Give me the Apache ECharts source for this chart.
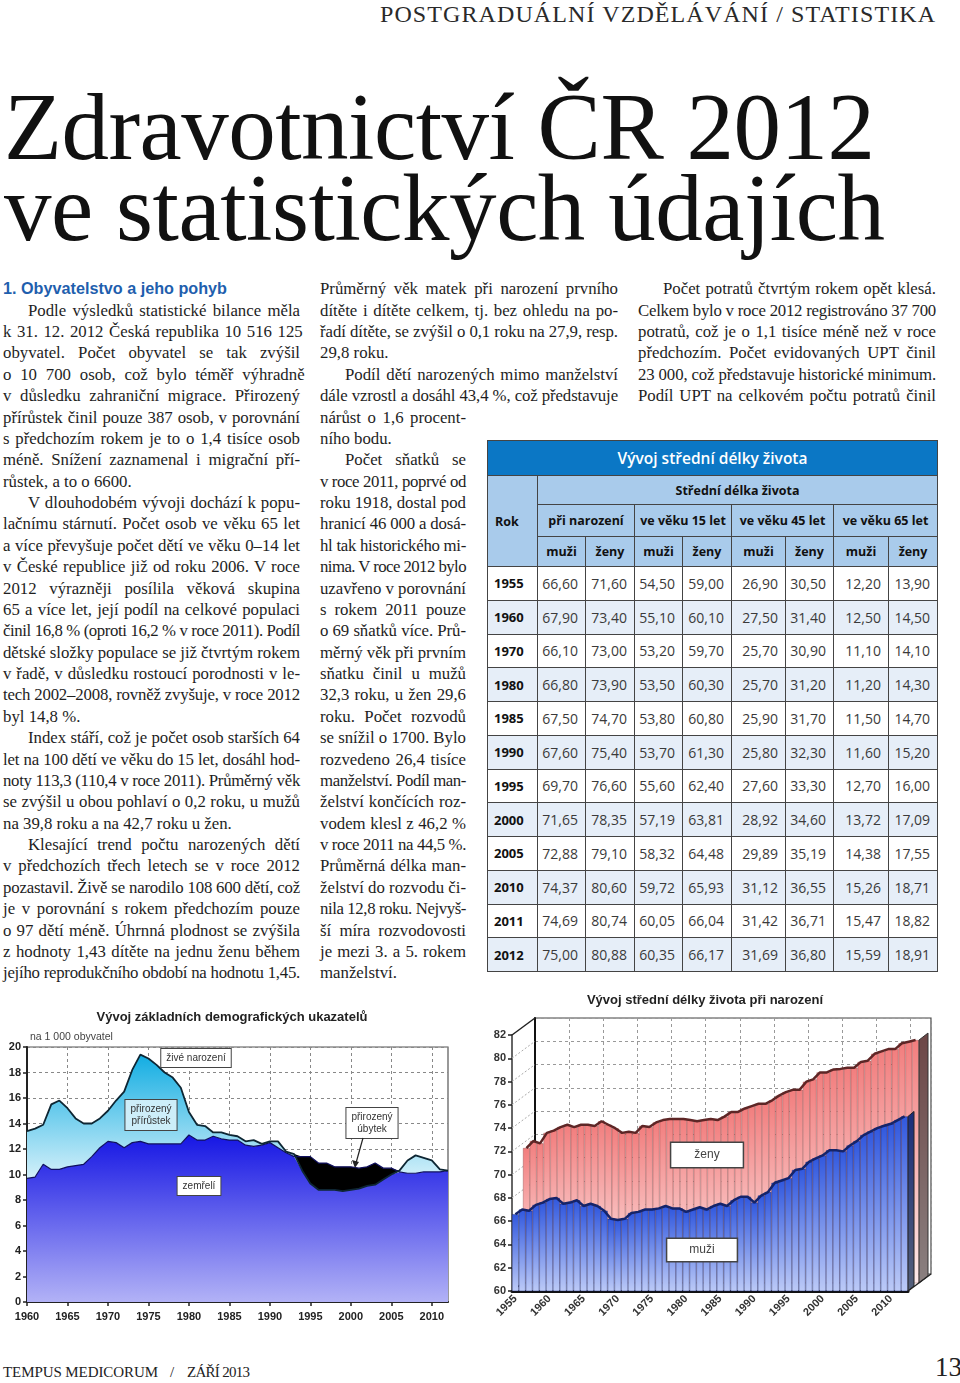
<!DOCTYPE html>
<html><head><meta charset="utf-8">
<script src="https://cdn.jsdelivr.net/npm/echarts@6/dist/echarts.min.js"></script>
<style>
html,body{margin:0;padding:0;background:#fff;}
body{width:960px;height:1383px;position:relative;overflow:hidden;font-family:"Liberation Serif",serif;color:#1c1c1c;}
.ln{position:absolute;height:21.375px;line-height:21.375px;white-space:nowrap;font-size:16.8px;color:#1e1e1e;}
.ln span{display:inline-block;white-space:nowrap;transform-origin:0 50%;}
.ln.head{font-family:"Liberation Sans Narrow","Liberation Sans",sans-serif;font-weight:bold;color:#1f5fae;font-size:17px;}
.hdr{position:absolute;white-space:nowrap;font-size:24px;line-height:28px;color:#2a2a2a;}
.ttl{position:absolute;white-space:nowrap;font-size:95px;line-height:95px;color:#111;}
.ttl span,.hdr span,.ft span{display:inline-block;white-space:nowrap;transform-origin:0 50%;}
.ft{position:absolute;white-space:nowrap;font-size:15px;line-height:20px;color:#222;}
#tbl{position:absolute;left:487px;top:440px;width:450px;height:518px;border-collapse:collapse;table-layout:fixed;font-family:"Open Sans",sans-serif;}
#tbl td{border:1.5px solid #444;padding:0;overflow:hidden;white-space:nowrap;}
#tbl tr.t0 td{background:#0b77c5;color:#fff;font-size:15.5px;font-weight:600;text-align:center;height:34px;}
#tbl tr.h td{background:#a9cbeb;color:#111;font-size:12.5px;font-weight:700;text-align:center;}
#tbl td.rok{text-align:left !important;padding-left:7px;}
#tbl tr.d td{font-size:14px;color:#3a3a3a;text-align:right;padding-right:7px;height:32.75px;}
#tbl tr.d td.y{font-size:13px;font-weight:700;color:#111;text-align:left;padding-left:6px;padding-right:0;}
#tbl tr.d.alt td{background:#e6eef8;}
#chartL{position:absolute;left:0;top:985px;width:480px;height:350px;}
#chartR{position:absolute;left:480px;top:985px;width:480px;height:350px;}
</style>
</head><body>
<div class="hdr" id="hdr" style="left:380px;top:0px;"><span>POSTGRADUÁLNÍ VZDĚLÁVÁNÍ / STATISTIKA</span></div>
<div class="ttl" id="t1" style="left:4px;top:80px;"><span>Zdravotnictví ČR 2012</span></div>
<div class="ttl" id="t2" style="left:4px;top:161px;"><span>ve statistických údajích</span></div>

<table id="tbl"></table>
<div id="chartL"></div>
<div id="chartR"></div>

<div class="ft" id="f1" style="left:3px;top:1362px;"><span>TEMPUS MEDICORUM</span></div>
<div class="ft" style="left:170px;top:1362px;"><span>/</span></div>
<div class="ft" id="f2" style="left:187px;top:1362px;text-decoration:underline;"><span>ZÁŘÍ 2013</span></div>
<div class="ft" style="left:935px;top:1352px;font-size:27px;line-height:30px;"><span>13</span></div>

<script>
// ---------------- text columns ----------------
const col1Lines = [
'#1. Obyvatelstvo a jeho pohyb',
'>Podle výsledků statistické bilance měla',
'k 31. 12. 2012 Česká republika 10\u00a0516\u00a0125',
'obyvatel. Počet obyvatel se tak zvýšil',
'o 10\u00a0700 osob, což bylo téměř výhradně',
'v důsledku zahraniční migrace. Přirozený',
'přírůstek činil pouze 387 osob, v porovnání',
's předchozím rokem je to o 1,4 tisíce osob',
'méně. Snížení zaznamenal i migrační pří-',
'růstek, a to o 6600.¶',
'>V dlouhodobém vývoji dochází k popu-',
'lačnímu stárnutí. Počet osob ve věku 65 let',
'a více převyšuje počet dětí ve věku 0–14 let',
'v České republice již od roku 2006. V roce',
'2012 výrazněji posílila věková skupina',
'65 a více let, její podíl na celkové populaci',
'činil 16,8 % (oproti 16,2 % v roce 2011). Podíl',
'dětské složky populace se již čtvrtým rokem',
'v řadě, v důsledku rostoucí porodnosti v le-',
'tech 2002–2008, rovněž zvyšuje, v roce 2012',
'byl 14,8 %.¶',
'>Index stáří, což je počet osob starších 64',
'let na 100 dětí ve věku do 15 let, dosáhl hod-',
'noty 113,3 (110,4 v roce 2011). Průměrný věk',
'se zvýšil u obou pohlaví o 0,2 roku, u mužů',
'na 39,8 roku a na 42,7 roku u žen.¶',
'>Klesající trend počtu narozených dětí',
'v předchozích třech letech se v roce 2012',
'pozastavil. Živě se narodilo 108\u00a0600 dětí, což',
'je v porovnání s rokem předchozím pouze',
'o 97 dětí méně. Úhrnná plodnost se zvýšila',
'z hodnoty 1,43 dítěte na jednu ženu během',
'jejího reprodukčního období na hodnotu 1,45.'
];
const col2Lines = [
'Průměrný věk matek při narození prvního',
'dítěte i dítěte celkem, tj. bez ohledu na po-',
'řadí dítěte, se zvýšil o 0,1 roku na 27,9, resp.',
'29,8 roku.¶',
'>Podíl dětí narozených mimo manželství',
'dále vzrostl a dosáhl 43,4 %, což představuje',
'nárůst o 1,6 procent-',
'ního bodu.¶',
'>Počet sňatků se',
'v roce 2011, poprvé od',
'roku 1918, dostal pod',
'hranicí 46\u00a0000 a dosá-',
'hl tak historického mi-',
'nima. V roce 2012 bylo',
'uzavřeno v porovnání',
's rokem 2011 pouze',
'o 69 sňatků více. Prů-',
'měrný věk při prvním',
'sňatku činil u mužů',
'32,3 roku, u žen 29,6',
'roku. Počet rozvodů',
'se snížil o 1700. Bylo',
'rozvedeno 26,4 tisíce',
'manželství. Podíl man-',
'želství končících roz-',
'vodem klesl z 46,2 %',
'v roce 2011 na 44,5 %.',
'Průměrná délka man-',
'želství do rozvodu či-',
'nila 12,8 roku. Nejvyš-',
'ší míra rozvodovosti',
'je mezi 3. a 5. rokem',
'manželství.¶'
];
const col3Lines = [
'>Počet potratů čtvrtým rokem opět klesá.',
'Celkem bylo v roce 2012 registrováno 37\u00a0700',
'potratů, což je o 1,1 tisíce méně než v roce',
'předchozím. Počet evidovaných UPT činil',
'23\u00a0000, což představuje historické minimum.',
'Podíl UPT na celkovém počtu potratů činil'
];

const fitters = [];
function fit(s, w, mode) {
  s.style.letterSpacing = '0px'; s.style.wordSpacing = '0px'; s.style.transform = '';
  const nat = s.getBoundingClientRect().width;
  const txt = s.textContent;
  if (mode === 'scale') {
    s.style.transform = 'scaleX(' + (w / nat) + ')';
    return;
  }
  if (mode === 'fit') {
    s.style.letterSpacing = ((w - nat) / Math.max(1, txt.length - 1)) + 'px';
    return;
  }
  if (nat > w + 0.3) {
    s.style.letterSpacing = ((w - nat) / txt.length) + 'px';
  } else if (mode === 'justify') {
    const n = (txt.match(/ /g) || []).length;
    if (n) s.style.wordSpacing = ((w - nat) / n) + 'px';
  }
}
const LH = 21.375;
function layoutCol(lines, x, top, widthFn) {
  lines.forEach((raw, i) => {
    let t = raw, mode = 'justify', ind = 0, cls = '';
    if (t[0] === '#') { t = t.slice(1); mode = 'scale'; cls = 'head'; }
    if (t[0] === '>') { t = t.slice(1); ind = 25; }
    if (t.endsWith('¶')) { t = t.slice(0, -1); mode = 'left'; }
    const w = widthFn(i) - ind - (cls ? 73 : 0);
    const d = document.createElement('div');
    d.className = 'ln ' + cls;
    d.style.left = (x + ind) + 'px';
    d.style.top = (top + i * LH) + 'px';
    d.style.width = w + 'px';
    const s = document.createElement('span');
    s.textContent = t;
    d.appendChild(s);
    document.body.appendChild(d);
    fitters.push(() => fit(s, w, mode));
  });
}
const top0 = 289 - LH / 2;
layoutCol(col1Lines, 3, top0, () => 297);
layoutCol(col2Lines, 320, top0, i => (i < 6 ? 298 : 146));
layoutCol(col3Lines, 638, top0, () => 298);
fitters.push(() => fit(document.querySelector('#hdr span'), 555, 'fit'));
fitters.push(() => fit(document.querySelector('#t1 span'), 871, 'fit'));
fitters.push(() => fit(document.querySelector('#t2 span'), 881, 'fit'));
fitters.push(() => fit(document.querySelector('#f1 span'), 155, 'fit'));
fitters.push(() => fit(document.querySelector('#f2 span'), 63, 'fit'));
function runFit() { fitters.forEach(f => f()); }
runFit();
if (document.fonts && document.fonts.ready) document.fonts.ready.then(runFit);

// ---------------- table ----------------
const tableYears = ['1955','1960','1970','1980','1985','1990','1995','2000','2005','2010','2011','2012'];
const birthMen   = ['66,60','67,90','66,10','66,80','67,50','67,60','69,70','71,65','72,88','74,37','74,69','75,00'];
const birthWomen = ['71,60','73,40','73,00','73,90','74,70','75,40','76,60','78,35','79,10','80,60','80,74','80,88'];
const age15Men   = ['54,50','55,10','53,20','53,50','53,80','53,70','55,60','57,19','58,32','59,72','60,05','60,35'];
const age15Women = ['59,00','60,10','59,70','60,30','60,80','61,30','62,40','63,81','64,48','65,93','66,04','66,17'];
const age45Men   = ['26,90','27,50','25,70','25,70','25,90','25,80','27,60','28,92','29,89','31,12','31,42','31,69'];
const age45Women = ['30,50','31,40','30,90','31,20','31,70','32,30','33,30','34,60','35,19','36,55','36,71','36,80'];
const age65Men   = ['12,20','12,50','11,10','11,20','11,50','11,60','12,70','13,72','14,38','15,26','15,47','15,59'];
const age65Women = ['13,90','14,50','14,10','14,30','14,70','15,20','16,00','17,09','17,55','18,71','18,82','18,91'];

(function buildTable() {
  const colW = [50, 48, 49, 48, 49, 54, 48, 55, 49];
  let h = '<colgroup>' + colW.map(w => '<col style="width:' + w + 'px">').join('') + '</colgroup>';
  h += '<tr class="t0"><td colspan="9">Vývoj střední délky života</td></tr>';
  h += '<tr class="h" style="height:29px"><td rowspan="3" class="rok">Rok</td><td colspan="8">Střední délka života</td></tr>';
  h += '<tr class="h" style="height:32px"><td colspan="2">při narození</td><td colspan="2">ve věku 15 let</td><td colspan="2">ve věku 45 let</td><td colspan="2">ve věku 65 let</td></tr>';
  h += '<tr class="h" style="height:30px">' + '<td>muži</td><td>ženy</td>'.repeat(4) + '</tr>';
  const cols = [birthMen, birthWomen, age15Men, age15Women, age45Men, age45Women, age65Men, age65Women];
  tableYears.forEach((y, i) => {
    h += '<tr class="d' + (i % 2 ? ' alt' : '') + '"><td class="y">' + y + '</td>' +
      cols.map(c => '<td>' + c[i] + '</td>').join('') + '</tr>';
  });
  document.getElementById('tbl').innerHTML = h;
})();

// ---------------- chart 1 data: births / deaths per 1000 ----------------
const demoYears = ['1960','1961','1962','1963','1964','1965','1966','1967','1968','1969',
  '1970','1971','1972','1973','1974','1975','1976','1977','1978','1979',
  '1980','1981','1982','1983','1984','1985','1986','1987','1988','1989',
  '1990','1991','1992','1993','1994','1995','1996','1997','1998','1999',
  '2000','2001','2002','2003','2004','2005','2006','2007','2008','2009',
  '2010','2011','2012'];
const liveBirths = [13.4,13.6,13.9,15.5,15.8,15.2,14.4,14.0,14.0,14.4,
  15.0,15.8,16.5,18.2,19.4,19.1,18.6,18.0,17.6,16.8,
  14.9,13.9,13.8,13.3,13.3,13.1,13.0,12.6,12.7,12.4,
  12.6,12.6,11.8,11.6,10.3,9.3,8.8,8.8,8.8,8.7,
  8.8,8.9,9.1,9.2,9.6,10.0,10.3,11.1,11.5,11.3,
  11.1,10.4,10.3];
const deaths = [9.7,9.8,10.8,10.4,10.4,10.6,10.7,10.8,11.4,12.1,
  12.6,12.5,12.1,12.5,12.6,12.4,12.4,12.4,12.4,12.4,
  13.1,12.7,12.7,13.0,12.8,12.7,12.7,12.3,12.2,12.3,
  12.5,12.1,11.7,11.4,11.4,11.4,10.9,10.9,10.6,10.6,
  10.6,10.5,10.6,10.9,10.5,10.5,10.2,10.1,10.1,10.2,
  10.2,10.2,10.3];

// ---------------- chart 2 data: life expectancy at birth ----------------
const lifeYears = ['1955','1956','1957','1958','1959','1960','1961','1962','1963','1964',
  '1965','1966','1967','1968','1969','1970','1971','1972','1973','1974',
  '1975','1976','1977','1978','1979','1980','1981','1982','1983','1984',
  '1985','1986','1987','1988','1989','1990','1991','1992','1993','1994',
  '1995','1996','1997','1998','1999','2000','2001','2002','2003','2004',
  '2005','2006','2007','2008','2009','2010','2011','2012'];
const lifeMen = [66.6,67.0,66.9,67.4,67.6,67.9,68.0,67.5,67.6,67.8,
  67.3,67.5,67.3,66.9,66.2,66.1,66.2,66.7,66.8,67.0,
  67.0,67.1,67.3,67.1,67.1,66.8,67.0,67.2,67.0,67.3,
  67.5,67.3,67.8,68.1,68.1,67.6,68.2,68.5,69.3,69.5,
  69.7,70.4,70.5,71.1,71.4,71.65,72.1,72.1,72.0,72.5,
  72.88,73.4,73.7,74.0,74.2,74.37,74.69,75.0];
const lifeWomen = [71.6,72.2,72.0,72.9,73.1,73.4,73.6,73.4,73.6,73.6,
  73.5,73.9,73.6,73.3,72.9,73.0,72.9,73.5,73.4,73.8,
  74.0,74.1,74.1,74.1,74.0,73.9,74.0,74.1,74.0,74.3,
  74.7,74.7,75.0,75.2,75.4,75.4,75.7,76.1,76.4,76.6,
  76.6,77.3,77.5,78.1,78.1,78.35,78.4,78.5,78.5,79.0,
  79.1,79.7,79.9,80.1,80.1,80.6,80.74,80.88];
const lifeTicks = [60,62,64,66,68,70,72,74,76,78,80,82];

const FF = '"Liberation Sans", Arial, sans-serif';
const grad = (a, b) => new echarts.graphic.LinearGradient(0, 0, 0, 1, [{offset: 0, color: a}, {offset: 1, color: b}]);

// ---------------- chart 1 ----------------
const lowPart = liveBirths.map((b, i) => +Math.min(b, deaths[i]).toFixed(2));
const gainPart = liveBirths.map((b, i) => +Math.max(b - deaths[i], 0).toFixed(2));
const lossPart = liveBirths.map((b, i) => +Math.max(deaths[i] - b, 0).toFixed(2));

const chartL = echarts.init(document.getElementById('chartL'), null, {renderer: 'canvas'});
const boxStyle = (txt, bg) => ({text: txt, fill: '#333', fontSize: 10, fontFamily: FF, align: 'center', verticalAlign: 'middle',
  backgroundColor: bg || '#fff', borderColor: '#444', borderWidth: 1, padding: [3, 5], lineHeight: 12});
chartL.setOption({
  animation: false,
  backgroundColor: '#fff',
  grid: {left: 27, right: 32, top: 62, bottom: 33, show: true, borderColor: '#555', borderWidth: 1.2, backgroundColor: '#fff', outerBoundsMode: 'none', containLabel: false},
  xAxis: {
    type: 'category', data: demoYears, boundaryGap: false,
    axisLine: {lineStyle: {color: '#222', width: 2}},
    axisTick: {interval: 4, length: 4, lineStyle: {color: '#222', width: 1.5}},
    axisLabel: {interval: 4, fontFamily: FF, fontWeight: 'bold', fontSize: 11, color: '#222', margin: 9},
    splitLine: {show: true, interval: 4, lineStyle: {type: [3, 3], color: '#888', width: 1}}
  },
  yAxis: {
    type: 'value', min: 0, max: 20, interval: 2,
    axisLine: {show: true, lineStyle: {color: '#222', width: 2}},
    axisTick: {show: true, length: 4, lineStyle: {color: '#222', width: 1.5}},
    axisLabel: {fontFamily: FF, fontWeight: 'bold', fontSize: 11, color: '#222', margin: 6},
    splitLine: {show: true, lineStyle: {type: [3, 3], color: '#888', width: 1}}
  },
  series: [
    {type: 'line', stack: 'r', data: lowPart, symbol: 'none', lineStyle: {width: 0}, areaStyle: {color: grad('#1616e4', '#b2b2f6'), opacity: 1}, z: 2},
    {type: 'line', stack: 'r', data: gainPart, symbol: 'none', lineStyle: {width: 0}, areaStyle: {color: grad('#12ade2', '#e8f7fc'), opacity: 1}, z: 2},
    {type: 'line', stack: 'r', data: lossPart, symbol: 'none', lineStyle: {width: 0}, areaStyle: {color: '#000', opacity: 1}, z: 2},
    {type: 'line', data: deaths, symbol: 'none', lineStyle: {color: '#10105e', width: 1.2}, z: 4},
    {type: 'line', data: liveBirths, symbol: 'none', lineStyle: {color: '#0e2633', width: 1.8}, z: 5}
  ],
  graphic: [
    {type: 'text', x: 232, y: 32, z: 10, style: {text: 'Vývoj základních demografických ukazatelů', fill: '#222', fontSize: 13, fontWeight: 'bold', fontFamily: FF, align: 'center', verticalAlign: 'middle'}},
    {type: 'text', x: 30, y: 52, z: 10, style: {text: 'na 1 000 obyvatel', fill: '#444', fontSize: 10.5, fontFamily: FF, align: 'left', verticalAlign: 'middle'}},
    {type: 'text', x: 196, y: 73, z: 10, style: boxStyle('živé narození')},
    {type: 'text', x: 151, y: 130, z: 10, style: boxStyle('přirozený\npřírůstek', '#cdeef9')},
    {type: 'text', x: 199, y: 201, z: 10, style: boxStyle('zemřelí')},
    {type: 'text', x: 372, y: 138, z: 10, style: boxStyle('přirozený\núbytek')},
    {type: 'line', z: 10, shape: {x1: 363, y1: 153, x2: 356, y2: 178}, style: {stroke: '#222', lineWidth: 1.2}},
    {type: 'polygon', z: 10, shape: {points: [[355, 183], [352, 175], [359, 177]]}, style: {fill: '#222'}}
  ]
});

// ---------------- chart 2 ----------------
const W2 = 480, H2 = 350;
const G0 = {left: 32, right: 52, top: 50, bottom: 44};   // front (muži)
const G1 = {left: 43, right: 41, top: 42, bottom: 52};   // middle (ženy)
const G2 = {left: 55, right: 29, top: 33, bottom: 61};   // back wall
const chartR = echarts.init(document.getElementById('chartR'), null, {renderer: 'canvas'});
const hiddenCat = gi => ({type: 'category', gridIndex: gi, data: lifeYears, boundaryGap: true, show: false});
const hiddenVal = gi => ({type: 'value', gridIndex: gi, min: 60, max: 82, interval: 2, show: false});
chartR.setOption({
  animation: false,
  backgroundColor: '#fff',
  grid: [
    Object.assign({outerBoundsMode: 'none', containLabel: false}, G0),
    Object.assign({outerBoundsMode: 'none', containLabel: false}, G1),
    Object.assign({outerBoundsMode: 'none', containLabel: false, show: true, borderColor: '#444', borderWidth: 1.2, backgroundColor: '#fff'}, G2)
  ],
  xAxis: [
    {type: 'category', gridIndex: 0, data: lifeYears, boundaryGap: true,
     axisLine: {lineStyle: {color: '#111', width: 3}},
     axisTick: {interval: 4, length: 4, lineStyle: {color: '#222', width: 1.5}},
     axisLabel: {interval: 4, rotate: 45, fontFamily: FF, fontWeight: 'bold', fontSize: 11, color: '#333', margin: 6},
     splitLine: {show: false}},
    hiddenCat(1),
    {type: 'category', gridIndex: 2, data: lifeYears, boundaryGap: true,
     axisLine: {show: false}, axisTick: {show: false}, axisLabel: {show: false},
     splitLine: {show: true, interval: 4, lineStyle: {type: [3, 3], color: '#999', width: 1}}}
  ],
  yAxis: [
    {type: 'value', gridIndex: 0, min: 60, max: 82, interval: 2,
     axisLine: {show: true, lineStyle: {color: '#333', width: 1.5}},
     axisTick: {show: true, length: 4, lineStyle: {color: '#222', width: 1.5}},
     axisLabel: {fontFamily: FF, fontWeight: 'bold', fontSize: 11, color: '#333', margin: 6},
     splitLine: {show: false}},
    hiddenVal(1),
    {type: 'value', gridIndex: 2, min: 60, max: 82, interval: 2,
     axisLine: {show: true, lineStyle: {color: '#111', width: 2}},
     axisTick: {show: false}, axisLabel: {show: false},
     splitLine: {show: true, lineStyle: {type: [3, 3], color: '#999', width: 1}}}
  ],
  series: [
    {type: 'bar', name: 'ženy', xAxisIndex: 1, yAxisIndex: 1, data: lifeWomen, barCategoryGap: '0%', z: 2,
     itemStyle: {color: grad('#f27e7e', '#fdeaea'), borderColor: 'rgba(130,50,50,0.35)', borderWidth: 0.5}},
    {type: 'line', xAxisIndex: 1, yAxisIndex: 1, data: lifeWomen, symbol: 'none', z: 3,
     lineStyle: {color: '#5e2626', width: 2.5}},
    {type: 'bar', name: 'muži', xAxisIndex: 0, yAxisIndex: 0, data: lifeMen, barCategoryGap: '0%', z: 4,
     itemStyle: {color: grad('#3158de', '#bccaf7'), borderColor: 'rgba(15,25,90,0.4)', borderWidth: 0.5}},
    {type: 'line', xAxisIndex: 0, yAxisIndex: 0, data: lifeMen, symbol: 'none', z: 5,
     lineStyle: {color: '#15246a', width: 2.5}}
  ]
});

(function decorate() {
  const y0 = v => chartR.convertToPixel({yAxisIndex: 0}, v);
  const y1 = v => chartR.convertToPixel({yAxisIndex: 1}, v);
  const y2 = v => chartR.convertToPixel({yAxisIndex: 2}, v);
  const g = [];
  lifeTicks.forEach(v => {
    const edge = (v === 60 || v === 82);
    g.push({type: 'line', z: 1, shape: {x1: G0.left, y1: y0(v), x2: G2.left, y2: y2(v)},
      style: edge ? {stroke: '#222', lineWidth: 1.5} : {stroke: '#aaa', lineWidth: 1, lineDash: [2, 2]}});
  });
  const r0 = W2 - G0.right, r1 = W2 - G1.right, r2 = W2 - G2.right;
  const last = lifeWomen[lifeWomen.length - 1];
  g.push({type: 'polygon', z: 3, shape: {points: [[r1, y1(last)], [r1 + 9, y1(last) - 7], [r1 + 9, y1(60) - 7], [r1, y1(60)]]},
    style: {fill: grad('#6d4646', '#8a8080'), stroke: '#333', lineWidth: 1}});
  g.push({type: 'polygon', z: 6, shape: {points: [[r0, y0(lifeMen[lifeMen.length - 1])], [r0 + 6, y0(lifeMen[lifeMen.length - 1]) - 5], [r0 + 6, y0(60) - 5], [r0, y0(60)]]},
    style: {fill: grad('#1a2d7a', '#55607a'), stroke: '#222', lineWidth: 1}});
  g.push({type: 'line', z: 7, shape: {x1: r0, y1: y0(60), x2: r2, y2: y2(60)}, style: {stroke: '#222', lineWidth: 1.5}});
  g.push({type: 'text', x: 225, y: 15, z: 10, style: {text: 'Vývoj střední délky života při narození', fill: '#222', fontSize: 13, fontWeight: 'bold', fontFamily: FF, align: 'center', verticalAlign: 'middle'}});
  g.push({type: 'text', x: 227, y: 170, z: 10, style: {text: 'ženy', fill: '#444', fontSize: 12, fontFamily: FF, align: 'center', verticalAlign: 'middle', backgroundColor: '#fff', borderColor: '#444', borderWidth: 1.5, padding: [6, 23]}});
  g.push({type: 'text', x: 222, y: 265, z: 10, style: {text: 'muži', fill: '#444', fontSize: 12, fontFamily: FF, align: 'center', verticalAlign: 'middle', backgroundColor: '#fff', borderColor: '#444', borderWidth: 1.5, padding: [5, 22]}});
  chartR.setOption({graphic: g});
})();
</script>
</body></html>
